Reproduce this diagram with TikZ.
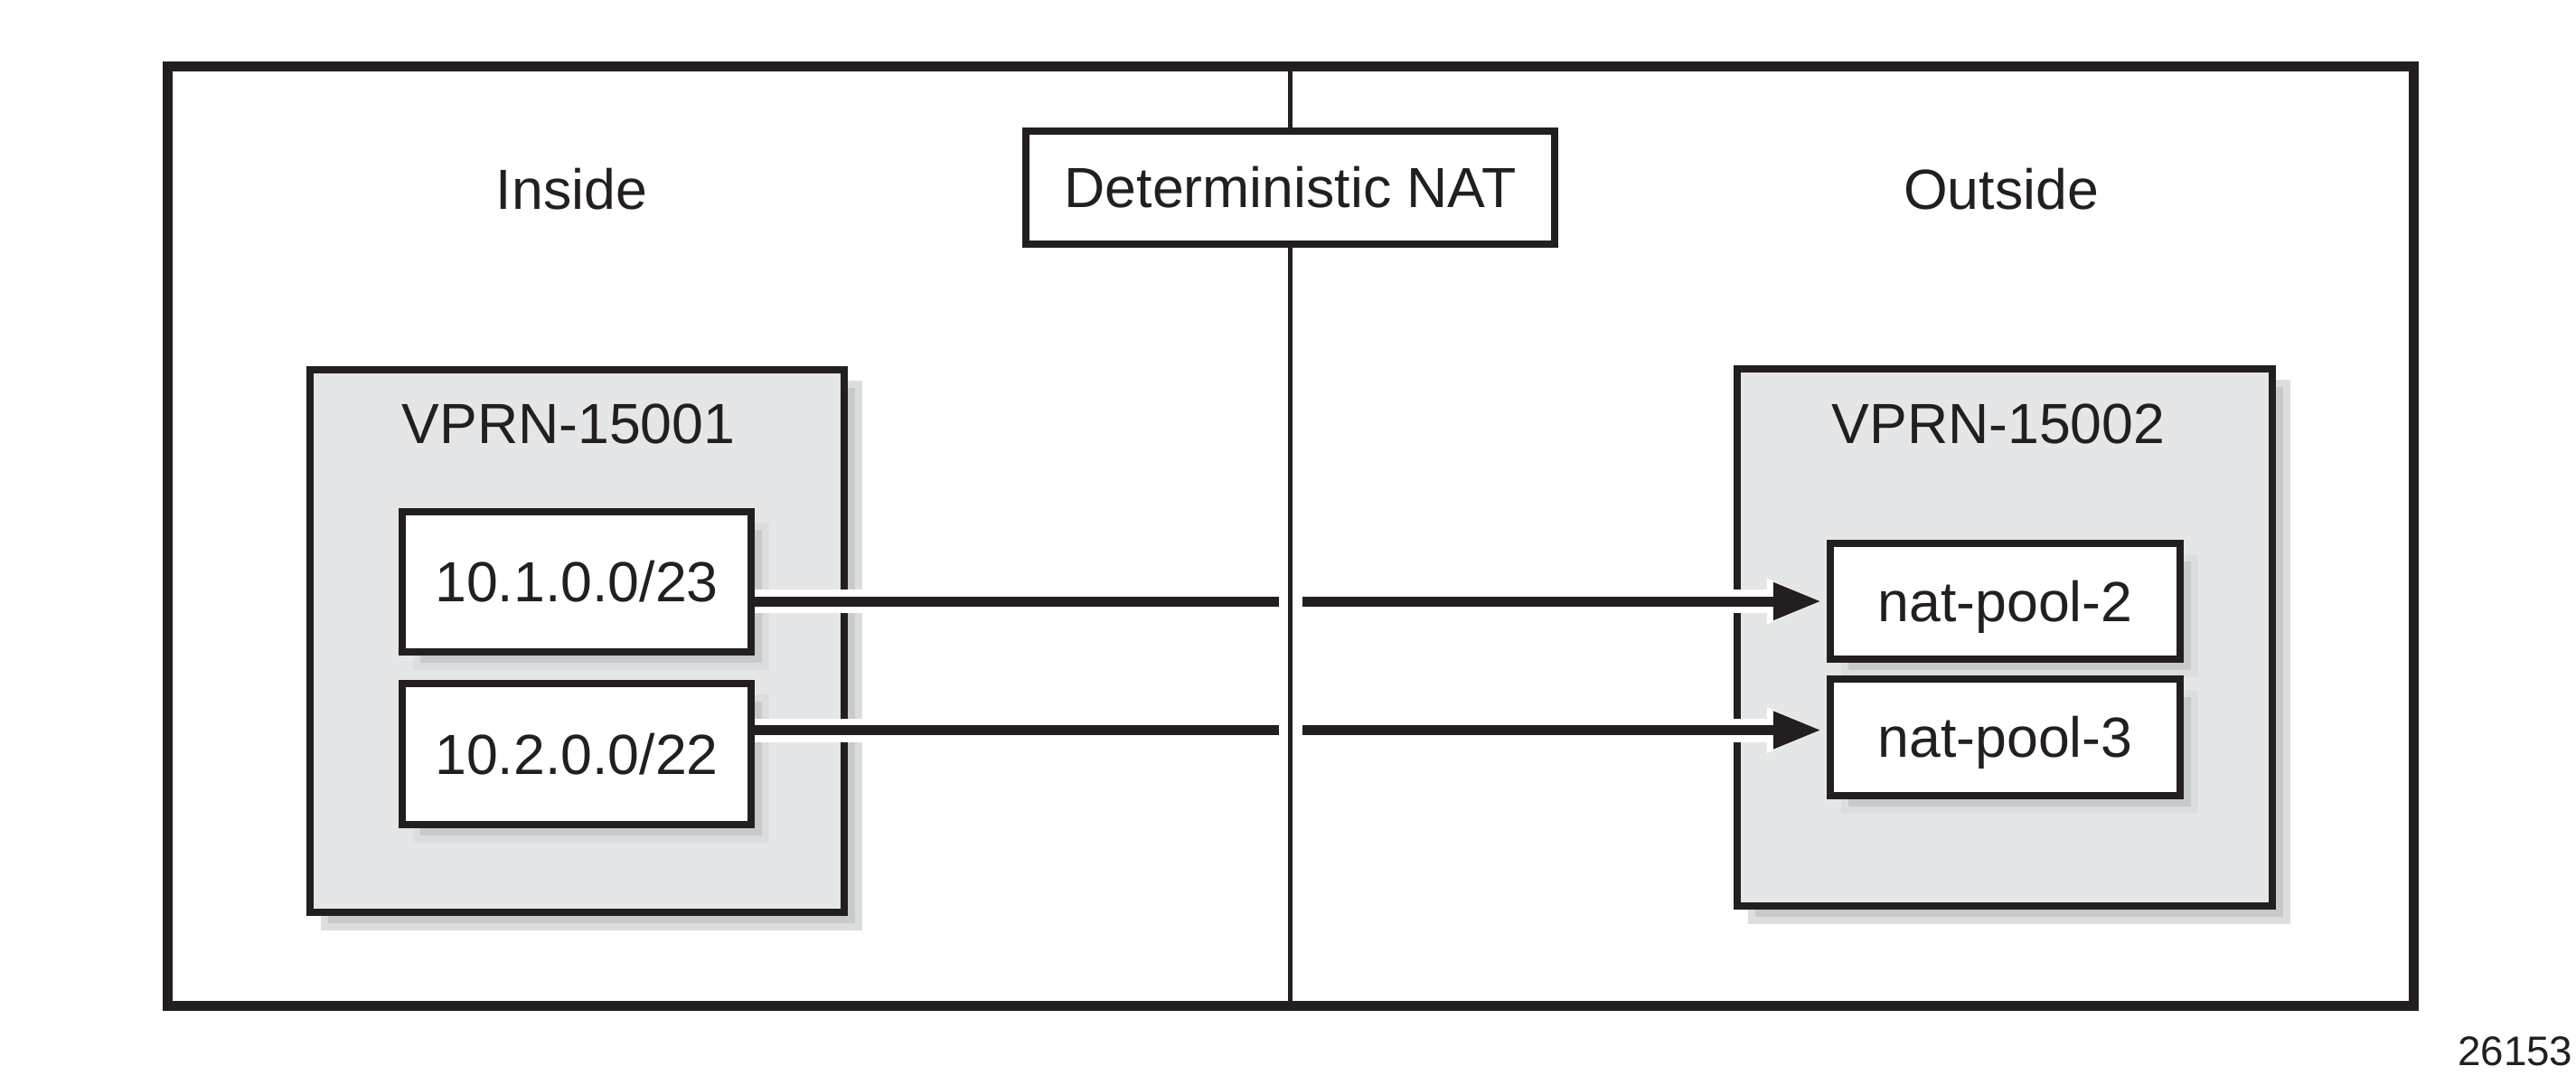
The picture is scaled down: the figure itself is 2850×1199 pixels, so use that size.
\documentclass[tikz,border=0pt]{standalone}
\usepackage{fontspec}
\setmainfont{Liberation Sans}
\usetikzlibrary{arrows.meta,calc}
\definecolor{ink}{HTML}{231F20}
\definecolor{vgrey}{HTML}{E5E6E7}
\definecolor{shlight}{HTML}{DCDDDE}
\definecolor{shdark}{HTML}{C8C9CB}
\pgfdeclarelayer{lshA}
\pgfdeclarelayer{lvprn}
\pgfdeclarelayer{lshB}
\pgfsetlayers{lshA,lvprn,lshB,main}
\newcommand\mkshadow[1]{%
  \fill[shlight] ($(#1.north west)+(16,16)$) rectangle ($(#1.south east)+(16,16)$);
  \fill[shdark] ($(#1.north west)+(24,24)$) rectangle ($(#1.south east)+(8,8)$);}
\begin{document}
\begin{tikzpicture}[x=0.01cm,y=-0.01cm,
  font=\fontsize{17.8pt}{21pt}\selectfont,
  vprnbox/.style={draw=ink, fill=vgrey, line width=0.08cm, inner sep=0pt},
  smallbox/.style={draw=ink, fill=white, line width=0.08cm, inner sep=0pt,
    text height=12.75pt, text depth=0pt, text=ink},
  framebox/.style={draw=ink, line width=0.11cm, inner sep=0pt},
  lbl/.style={text=ink, inner sep=0pt, anchor=base},
  conn/.style={ink, line width=0.11cm, -{Triangle[length=0.53cm,width=0.39cm]}, shorten >=0.06cm},
  halo/.style={white, line width=0.26cm, -{Triangle[length=0.6cm,width=0.46cm]}, shorten >=0.06cm}]
\useasboundingbox (0,0) rectangle (2850,1199);

% outer frame and title box
\node[framebox, minimum width=24.83cm, minimum height=10.385cm] (frame) at (1428,593.25) {};
\node[smallbox, minimum width=5.85cm, minimum height=1.25cm] (nat) at (1427.5,207.5) {Deterministic NAT};

\node[lbl] (inside) at (632.5,231.5) {Inside};
\node[lbl] (outside) at (2214,231.5) {Outside};

% VPRN containers
\begin{pgfonlayer}{lvprn}
\node[vprnbox, minimum width=5.91cm, minimum height=6.00cm] (v1) at (638.5,709) {};
\node[vprnbox, minimum width=5.92cm, minimum height=5.94cm] (v2) at (2218,705) {};
\end{pgfonlayer}
\node[lbl] (v1t) at (629,490) {VPRN-15001};
\node[lbl] (v2t) at (2211,490) {VPRN-15002};

% inner boxes
\node[smallbox, minimum width=3.86cm, minimum height=1.55cm] (b1) at (638,643.5) {10.1.0.0/23};
\node[smallbox, minimum width=3.86cm, minimum height=1.56cm] (b2) at (638,834) {10.2.0.0/22};
\node[smallbox, minimum width=3.87cm, minimum height=1.28cm] (p2) at (2218.5,665) {nat-pool-2};
\node[smallbox, minimum width=3.87cm, minimum height=1.29cm] (p3) at (2218.5,815.5) {nat-pool-3};

\node[lbl, anchor=base east, font=\fontsize{13pt}{15pt}\selectfont] (fignum) at (2847,1178) {26153};

% shadows
\begin{pgfonlayer}{lshA}
\mkshadow{v1}
\mkshadow{v2}
\end{pgfonlayer}
\begin{pgfonlayer}{lshB}
\mkshadow{b1}
\mkshadow{b2}
\mkshadow{p2}
\mkshadow{p3}
% connectors
\coordinate (a2) at (0,807.5);
\draw[halo] (b1.east |- p2.west) -- (p2.west);
\draw[conn] (b1.east |- p2.west) -- (p2.west);
\draw[halo] (b2.east |- a2) -- (p3.west |- a2);
\draw[conn] (b2.east |- a2) -- (p3.west |- a2);
% divider with its gap
\draw[white, line width=0.26cm] (nat |- b1.north) -- (nat |- b2.south);
\draw[ink, line width=0.05cm] (nat |- frame.north) -- (nat |- frame.south);
\end{pgfonlayer}
\end{tikzpicture}
\end{document}
